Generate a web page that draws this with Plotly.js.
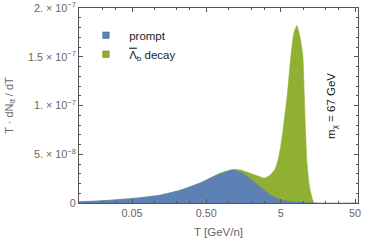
<!DOCTYPE html>
<html><head><meta charset="utf-8">
<script src="https://cdn.plot.ly/plotly-3.0.1.min.js"></script>
<style>html,body{margin:0;padding:0;background:#fff}#c{width:366px;height:244px}</style>
</head><body><div id="c"></div>
<script>
// Kinetic energy per nucleon T [GeV/n]
const promptT = [0.0097, 0.0185, 0.0344, 0.0641, 0.119, 0.221, 0.411, 0.764, 1.15, 1.5, 1.94, 2.64, 3.6, 5.0, 7.5, 12, 20, 55];
const promptV = [1.2e-9, 2.2e-9, 3.6e-9, 5.5e-9, 8.0e-9, 1.3e-8, 2.05e-8, 3.0e-8, 3.38e-8, 3.1e-8, 2.5e-8, 1.7e-8, 8.5e-9, 3.4e-9, 1.2e-9, 3e-10, 5e-11, 0];
// total = prompt + Lambda_b decay
const totalT = [0.0097, 0.0185, 0.0344, 0.0641, 0.119, 0.221, 0.411, 0.764, 1.15, 1.5, 1.94, 2.64, 3.0, 3.6, 4.21, 4.66, 5.02, 5.44, 6.15, 6.84, 7.5, 8.24, 9.0, 9.92, 10.4, 10.8, 11.3, 12.2, 13.5, 14.1, 55];
const totalV = [1.2e-9, 2.2e-9, 3.6e-9, 5.5e-9, 8.0e-9, 1.3e-8, 2.05e-8, 3.05e-8, 3.45e-8, 3.35e-8, 3.05e-8, 2.7e-8, 2.55e-8, 2.85e-8, 3.5e-8, 4.6e-8, 5.9e-8, 7.8e-8, 1.12e-7, 1.5e-7, 1.74e-7, 1.82e-7, 1.72e-7, 1.52e-7, 1.11e-7, 7.5e-8, 4.1e-8, 1.7e-8, 3e-9, 0, 0];
const seriesNames = ["\u00A0prompt", "\u00A0<span style=\"text-decoration:overline\">\u039B</span><sub>b</sub> decay"];
const xTickVals = [0.05, 0.5, 5, 50];
const xTickText = ["0.05", "0.50", "5", "50"];
const yTickVals = [0, 5e-8, 1e-7, 1.5e-7, 2e-7];
const yTickText = ["0", "5. \u00D7 10<sup>\u22128</sup>", "1. \u00D7 10<sup>\u22127</sup>", "1.5 \u00D7 10<sup>\u22127</sup>", "2. \u00D7 10<sup>\u22127</sup>"];

const blue = "#5E81B5", green = "#8FB032";
const traces = [
  {x: totalT, y: totalV, type: "scatter", mode: "lines", fill: "tozeroy", fillcolor: green,
   line: {color: green, width: 0.5, shape: "spline", smoothing: 0.5}, showlegend: false, hoverinfo: "skip"},
  {x: promptT, y: promptV, type: "scatter", mode: "lines", fill: "tozeroy", fillcolor: blue,
   line: {color: blue, width: 0.5, shape: "spline", smoothing: 0.5}, showlegend: false, hoverinfo: "skip"},
  {x: [null], y: [null], type: "scatter", mode: "markers", name: seriesNames[0],
   marker: {symbol: "square", size: 6.5, color: blue, line: {color: "#3d5a85", width: 0.5}}},
  {x: [null], y: [null], type: "scatter", mode: "markers", name: seriesNames[1],
   marker: {symbol: "square", size: 6.5, color: green, line: {color: "#5f7a1c", width: 0.5}}}
];
const frame = "#555";
const layout = {
  width: 366, height: 244,
  margin: {l: 79, r: 8, t: 8, b: 41},
  paper_bgcolor: "#fff", plot_bgcolor: "#fff",
  font: {family: "Liberation Sans, Arial, sans-serif", size: 10.8, color: "#666"},
  xaxis: {
    type: "log", range: [-2.014, 1.739], tickvals: xTickVals, ticktext: xTickText,
    ticks: "inside", ticklen: 4, tickcolor: frame, showgrid: false, zeroline: false,
    showline: true, linecolor: frame, linewidth: 1, mirror: "allticks",
    title: {text: "T [GeV/n]", font: {size: 11.5, color: "#666"}, standoff: 9},
    minor: {ticks: "inside", ticklen: 2, tickcolor: frame, tickvals: [0.02,0.03,0.1,0.2,0.3,1,2,3,10,20,30]}
  },
  yaxis: {
    range: [0, 2e-7], tickvals: yTickVals, ticktext: yTickText,
    ticks: "inside", ticklen: 4, tickcolor: frame, showgrid: false, zeroline: false,
    showline: true, linecolor: frame, linewidth: 1, mirror: "allticks",
    title: {text: "T \u00B7 dN<sub>d\u0305</sub> / dT", font: {size: 11, color: "#666"}, standoff: 12},
    minor: {ticks: "inside", ticklen: 2, tickcolor: frame, dtick: 1e-8}
  },
  legend: {x: 0.025, y: 0.935, xanchor: "left", yanchor: "top", bgcolor: "rgba(0,0,0,0)",
           font: {size: 11.5, color: "#222"}, itemwidth: 30, tracegroupgap: 0},
  annotations: [{
    text: "m<sub>\u03C7</sub> = 67 GeV", xref: "paper", yref: "paper", x: 0.937, y: 0.5,
    showarrow: false, textangle: -90, font: {size: 11.5, color: "#222"}
  }]
};
Plotly.newPlot("c", traces, layout, {staticPlot: true, displayModeBar: false});
</script></body></html>
